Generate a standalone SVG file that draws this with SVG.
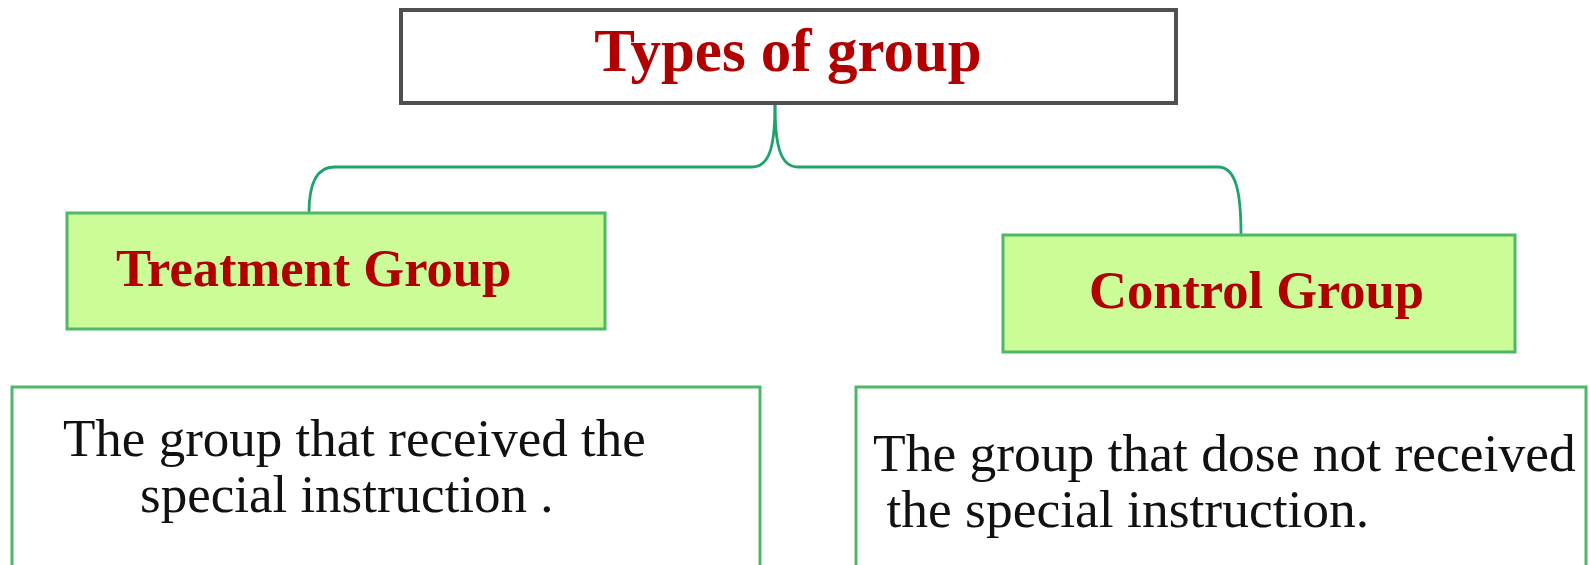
<svg xmlns="http://www.w3.org/2000/svg" width="1589" height="565" viewBox="0 0 1589 565">
  <style>
    .title { font-family: "Liberation Serif", "Times New Roman", serif; font-weight: bold; fill: #B00000; }
    .body { font-family: "Liberation Serif", "Times New Roman", serif; fill: #111111; }
    .green { fill: #CCFC98; stroke: #4CB868; stroke-width: 3; }
    .white { fill: #FFFFFF; stroke: #4CB868; stroke-width: 3; }
    .conn { fill: none; stroke: #1FA36A; stroke-width: 2.8; }
  </style>
  <rect width="1589" height="565" fill="#FFFFFF"/>
  <g id="connectors">
    <path class="conn" d="M 775 104 C 775 145, 770 167, 752 167 L 334 167 C 316 167, 309 185, 309 213"/>
    <path class="conn" d="M 775 104 C 775 145, 780 167, 798 167 L 1218 167 C 1236 167, 1241 192, 1241 235"/>
  </g>
  <g id="types">
    <rect x="401" y="10" width="775" height="93" fill="#FFFFFF" stroke="#505050" stroke-width="4"/>
    <text class="title" x="788" y="71" font-size="61" text-anchor="middle">Types of group</text>
  </g>
  <g id="treatment">
    <rect class="green" x="67" y="213" width="538" height="116"/>
    <text class="title" x="116" y="286" font-size="52.5">Treatment Group</text>
  </g>
  <g id="control">
    <rect class="green" x="1003" y="235" width="512" height="117"/>
    <text class="title" x="1089" y="308" font-size="52.5">Control Group</text>
  </g>
  <g id="treatment-desc">
    <rect class="white" x="12" y="387" width="748" height="190"/>
    <text class="body" font-size="53"><tspan x="63" y="456">The group that received the</tspan><tspan x="140" y="512">special instruction .</tspan></text>
  </g>
  <g id="control-desc">
    <rect class="white" x="856" y="387" width="730" height="190"/>
    <text class="body" font-size="53.5"><tspan x="873" y="471">The group that dose not received</tspan><tspan x="873" y="527"> the special instruction.</tspan></text>
  </g>
</svg>
